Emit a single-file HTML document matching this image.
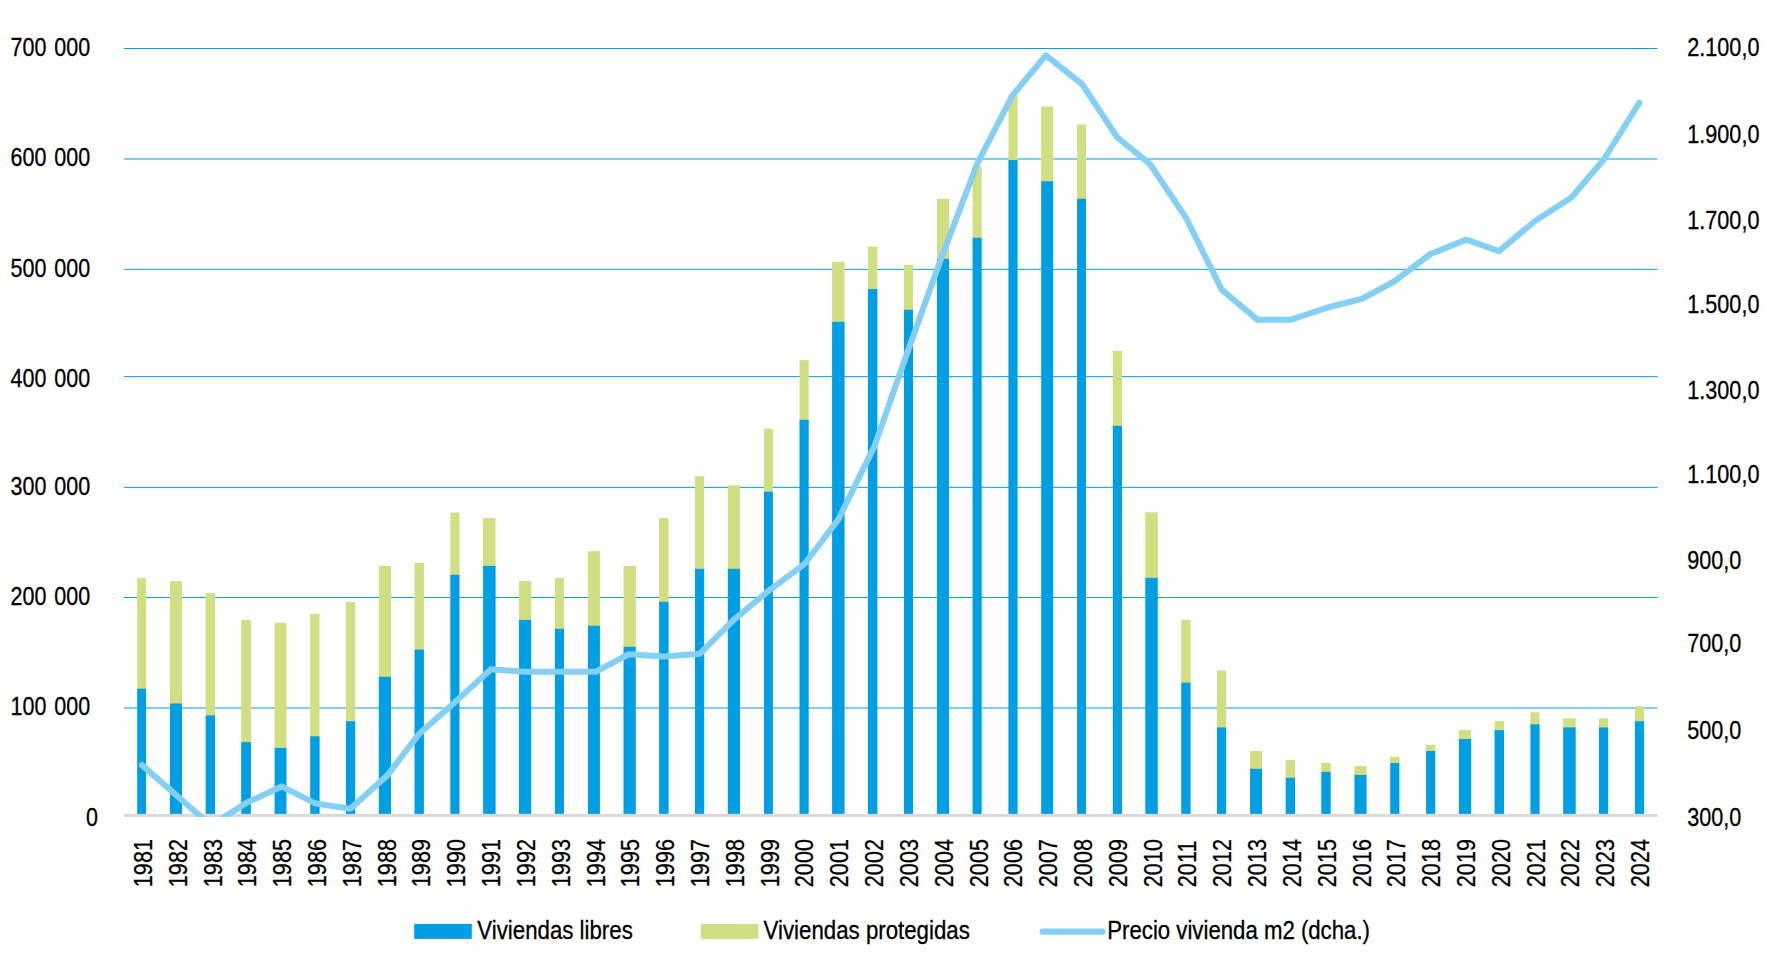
<!DOCTYPE html>
<html lang="es"><head><meta charset="utf-8"><title>Viviendas y precio</title>
<style>html,body{margin:0;padding:0;background:#fff}body{width:1772px;height:971px;overflow:hidden}svg{display:block}text{font-family:"Liberation Sans",sans-serif;fill:#000;stroke:#000;stroke-width:0.3px}</style>
</head><body>
<svg width="1772" height="971" viewBox="0 0 1772 971">
<rect width="1772" height="971" fill="#fff"/>
<g stroke="#009EE2" stroke-width="1" fill="none">
<line x1="124.0" x2="1657.5" y1="708.00" y2="708.00"/>
<line x1="124.0" x2="1657.5" y1="597.50" y2="597.50"/>
<line x1="124.0" x2="1657.5" y1="487.35" y2="487.35"/>
<line x1="124.0" x2="1657.5" y1="376.65" y2="376.65"/>
<line x1="124.0" x2="1657.5" y1="269.35" y2="269.35"/>
<line x1="124.0" x2="1657.5" y1="159.00" y2="159.00"/>
<line x1="124.0" x2="1657.5" y1="48.50" y2="48.50"/>
</g>
<g>
<rect x="137.2" y="578.1" width="8.9" height="111.1" fill="#D2DE82"/>
<rect x="137.2" y="688.7" width="8.9" height="125.8" fill="#009EE2"/>
<rect x="170.0" y="581.1" width="12.0" height="122.9" fill="#D2DE82"/>
<rect x="170.0" y="703.5" width="12.0" height="111.0" fill="#009EE2"/>
<rect x="205.6" y="593.1" width="9.5" height="122.8" fill="#D2DE82"/>
<rect x="205.6" y="715.4" width="9.5" height="99.1" fill="#009EE2"/>
<rect x="241.2" y="619.8" width="9.7" height="122.8" fill="#D2DE82"/>
<rect x="241.2" y="742.1" width="9.7" height="72.4" fill="#009EE2"/>
<rect x="274.6" y="622.8" width="11.9" height="125.6" fill="#D2DE82"/>
<rect x="274.6" y="747.9" width="11.9" height="66.6" fill="#009EE2"/>
<rect x="310.2" y="613.9" width="9.4" height="122.9" fill="#D2DE82"/>
<rect x="310.2" y="736.3" width="9.4" height="78.2" fill="#009EE2"/>
<rect x="346.0" y="602.0" width="9.2" height="119.7" fill="#D2DE82"/>
<rect x="346.0" y="721.2" width="9.2" height="93.3" fill="#009EE2"/>
<rect x="378.8" y="565.8" width="12.2" height="111.5" fill="#D2DE82"/>
<rect x="378.8" y="676.8" width="12.2" height="137.7" fill="#009EE2"/>
<rect x="414.5" y="562.9" width="9.4" height="87.2" fill="#D2DE82"/>
<rect x="414.5" y="649.6" width="9.4" height="164.9" fill="#009EE2"/>
<rect x="450.3" y="512.6" width="9.2" height="62.7" fill="#D2DE82"/>
<rect x="450.3" y="574.8" width="9.2" height="239.7" fill="#009EE2"/>
<rect x="483.1" y="518.1" width="12.5" height="48.3" fill="#D2DE82"/>
<rect x="483.1" y="565.9" width="12.5" height="248.6" fill="#009EE2"/>
<rect x="519.0" y="580.9" width="12.2" height="39.5" fill="#D2DE82"/>
<rect x="519.0" y="619.9" width="12.2" height="194.6" fill="#009EE2"/>
<rect x="554.9" y="577.9" width="9.1" height="51.4" fill="#D2DE82"/>
<rect x="554.9" y="628.8" width="9.1" height="185.7" fill="#009EE2"/>
<rect x="587.9" y="551.2" width="12.0" height="75.0" fill="#D2DE82"/>
<rect x="587.9" y="625.7" width="12.0" height="188.8" fill="#009EE2"/>
<rect x="623.5" y="565.9" width="12.3" height="81.4" fill="#D2DE82"/>
<rect x="623.5" y="646.8" width="12.3" height="167.7" fill="#009EE2"/>
<rect x="659.1" y="518.1" width="9.5" height="84.2" fill="#D2DE82"/>
<rect x="659.1" y="601.8" width="9.5" height="212.7" fill="#009EE2"/>
<rect x="695.0" y="476.2" width="9.2" height="93.1" fill="#D2DE82"/>
<rect x="695.0" y="568.8" width="9.2" height="245.7" fill="#009EE2"/>
<rect x="727.8" y="485.3" width="12.2" height="84.0" fill="#D2DE82"/>
<rect x="727.8" y="568.8" width="12.2" height="245.7" fill="#009EE2"/>
<rect x="764.0" y="428.6" width="8.9" height="63.6" fill="#D2DE82"/>
<rect x="764.0" y="491.7" width="8.9" height="322.8" fill="#009EE2"/>
<rect x="799.5" y="360.1" width="9.2" height="60.2" fill="#D2DE82"/>
<rect x="799.5" y="419.8" width="9.2" height="394.7" fill="#009EE2"/>
<rect x="832.1" y="261.7" width="12.5" height="60.6" fill="#D2DE82"/>
<rect x="832.1" y="321.8" width="12.5" height="492.7" fill="#009EE2"/>
<rect x="867.9" y="246.7" width="9.5" height="42.8" fill="#D2DE82"/>
<rect x="867.9" y="289.0" width="9.5" height="525.5" fill="#009EE2"/>
<rect x="904.0" y="264.8" width="9.0" height="45.5" fill="#D2DE82"/>
<rect x="904.0" y="309.8" width="9.0" height="504.7" fill="#009EE2"/>
<rect x="937.0" y="198.8" width="12.0" height="60.5" fill="#D2DE82"/>
<rect x="937.0" y="258.8" width="12.0" height="555.7" fill="#009EE2"/>
<rect x="972.6" y="166.2" width="9.1" height="72.1" fill="#D2DE82"/>
<rect x="972.6" y="237.8" width="9.1" height="576.7" fill="#009EE2"/>
<rect x="1008.4" y="94.5" width="9.2" height="66.1" fill="#D2DE82"/>
<rect x="1008.4" y="160.1" width="9.2" height="654.4" fill="#009EE2"/>
<rect x="1041.2" y="106.5" width="12.0" height="75.2" fill="#D2DE82"/>
<rect x="1041.2" y="181.2" width="12.0" height="633.3" fill="#009EE2"/>
<rect x="1077.1" y="124.5" width="8.9" height="74.8" fill="#D2DE82"/>
<rect x="1077.1" y="198.8" width="8.9" height="615.7" fill="#009EE2"/>
<rect x="1112.8" y="351.0" width="9.2" height="75.4" fill="#D2DE82"/>
<rect x="1112.8" y="425.9" width="9.2" height="388.6" fill="#009EE2"/>
<rect x="1145.3" y="512.4" width="12.5" height="66.0" fill="#D2DE82"/>
<rect x="1145.3" y="577.9" width="12.5" height="236.6" fill="#009EE2"/>
<rect x="1181.2" y="619.8" width="9.4" height="63.3" fill="#D2DE82"/>
<rect x="1181.2" y="682.6" width="9.4" height="131.9" fill="#009EE2"/>
<rect x="1217.0" y="670.4" width="9.2" height="57.5" fill="#D2DE82"/>
<rect x="1217.0" y="727.4" width="9.2" height="87.1" fill="#009EE2"/>
<rect x="1250.1" y="751.0" width="12.0" height="18.3" fill="#D2DE82"/>
<rect x="1250.1" y="768.8" width="12.0" height="45.7" fill="#009EE2"/>
<rect x="1285.7" y="759.9" width="9.4" height="18.3" fill="#D2DE82"/>
<rect x="1285.7" y="777.7" width="9.4" height="36.8" fill="#009EE2"/>
<rect x="1321.3" y="763.0" width="9.4" height="9.3" fill="#D2DE82"/>
<rect x="1321.3" y="771.8" width="9.4" height="42.7" fill="#009EE2"/>
<rect x="1354.4" y="766.0" width="12.2" height="9.4" fill="#D2DE82"/>
<rect x="1354.4" y="774.9" width="12.2" height="39.6" fill="#009EE2"/>
<rect x="1390.2" y="756.8" width="9.2" height="6.7" fill="#D2DE82"/>
<rect x="1390.2" y="763.0" width="9.2" height="51.5" fill="#009EE2"/>
<rect x="1426.1" y="744.9" width="9.2" height="6.6" fill="#D2DE82"/>
<rect x="1426.1" y="751.0" width="9.2" height="63.5" fill="#009EE2"/>
<rect x="1458.9" y="730.1" width="12.3" height="9.4" fill="#D2DE82"/>
<rect x="1458.9" y="739.0" width="12.3" height="75.5" fill="#009EE2"/>
<rect x="1494.5" y="721.2" width="9.5" height="9.4" fill="#D2DE82"/>
<rect x="1494.5" y="730.1" width="9.5" height="84.4" fill="#009EE2"/>
<rect x="1530.4" y="712.3" width="9.2" height="12.5" fill="#D2DE82"/>
<rect x="1530.4" y="724.3" width="9.2" height="90.2" fill="#009EE2"/>
<rect x="1563.2" y="718.2" width="12.5" height="9.7" fill="#D2DE82"/>
<rect x="1563.2" y="727.4" width="12.5" height="87.1" fill="#009EE2"/>
<rect x="1599.0" y="718.2" width="9.2" height="9.7" fill="#D2DE82"/>
<rect x="1599.0" y="727.4" width="9.2" height="87.1" fill="#009EE2"/>
<rect x="1634.9" y="706.2" width="9.2" height="15.5" fill="#D2DE82"/>
<rect x="1634.9" y="721.2" width="9.2" height="93.3" fill="#009EE2"/>
</g>
<rect x="124.0" y="813.85" width="1533.5" height="3.15" fill="#D9D9D9"/>
<defs><clipPath id="pc"><rect x="114.0" y="0" width="1553.5" height="816.9"/></clipPath></defs>
<polyline clip-path="url(#pc)" points="142.0,765.1 176.3,795.3 211.1,825.6 246.0,803.1 281.7,786.4 315.4,803.4 350.4,808.8 387.4,775.3 418.7,734.3 454.6,702.5 491.0,669.2 523.5,671.8 559.6,671.8 595.8,671.8 628.6,654.2 664.2,656.5 699.7,653.8 733.4,620.1 768.5,590.9 804.5,564.0 838.4,519.3 874.3,446.7 908.2,349.9 943.5,252.0 977.5,163.2 1012.6,95.1 1045.9,55.4 1082.0,84.0 1117.2,137.3 1150.1,164.2 1185.9,217.6 1221.7,289.7 1257.6,319.8 1290.4,319.8 1326.8,307.8 1362.2,298.8 1395.0,281.0 1430.3,254.0 1466.3,239.7 1499.0,251.2 1535.0,221.0 1571.4,197.5 1603.4,160.0 1639.4,102.6" fill="none" stroke="#84D0F5" stroke-width="6.1" stroke-linejoin="round" stroke-linecap="round"/>
<text transform="translate(86.00,826.00) scale(0.8600,1.0000)" font-size="25" word-spacing="2.3">0</text>
<text transform="translate(10.50,715.10) scale(0.8600,1.0000)" font-size="25" word-spacing="2.3">100 000</text>
<text transform="translate(10.50,605.10) scale(0.8600,1.0000)" font-size="25" word-spacing="2.3">200 000</text>
<text transform="translate(10.50,495.00) scale(0.8600,1.0000)" font-size="25" word-spacing="2.3">300 000</text>
<text transform="translate(10.50,387.10) scale(0.8600,1.0000)" font-size="25" word-spacing="2.3">400 000</text>
<text transform="translate(10.50,277.20) scale(0.8600,1.0000)" font-size="25" word-spacing="2.3">500 000</text>
<text transform="translate(10.50,166.40) scale(0.8600,1.0000)" font-size="25" word-spacing="2.3">600 000</text>
<text transform="translate(10.50,55.90) scale(0.8600,1.0000)" font-size="25" word-spacing="2.3">700 000</text>
<text transform="translate(1687.30,826.20) scale(0.8650,1.0000)" font-size="25">300,0</text>
<text transform="translate(1687.30,739.00) scale(0.8650,1.0000)" font-size="25">500,0</text>
<text transform="translate(1687.30,652.40) scale(0.8650,1.0000)" font-size="25">700,0</text>
<text transform="translate(1687.30,568.60) scale(0.8650,1.0000)" font-size="25">900,0</text>
<text transform="translate(1687.30,482.50) scale(0.8650,1.0000)" font-size="25">1.100,0</text>
<text transform="translate(1687.30,399.10) scale(0.8650,1.0000)" font-size="25">1.300,0</text>
<text transform="translate(1687.30,312.50) scale(0.8650,1.0000)" font-size="25">1.500,0</text>
<text transform="translate(1687.30,228.70) scale(0.8650,1.0000)" font-size="25">1.700,0</text>
<text transform="translate(1687.30,142.60) scale(0.8650,1.0000)" font-size="25">1.900,0</text>
<text transform="translate(1687.30,56.00) scale(0.8650,1.0000)" font-size="25">2.100,0</text>
<text transform="translate(151.93,887.30) rotate(-90) scale(0.8600,1.0400)" font-size="25" letter-spacing="0.2">1981</text>
<text transform="translate(186.74,887.30) rotate(-90) scale(0.8600,1.0400)" font-size="25" letter-spacing="0.2">1982</text>
<text transform="translate(221.56,887.30) rotate(-90) scale(0.8600,1.0400)" font-size="25" letter-spacing="0.2">1983</text>
<text transform="translate(256.38,887.30) rotate(-90) scale(0.8600,1.0400)" font-size="25" letter-spacing="0.2">1984</text>
<text transform="translate(291.19,887.30) rotate(-90) scale(0.8600,1.0400)" font-size="25" letter-spacing="0.2">1985</text>
<text transform="translate(326.01,887.30) rotate(-90) scale(0.8600,1.0400)" font-size="25" letter-spacing="0.2">1986</text>
<text transform="translate(360.83,887.30) rotate(-90) scale(0.8600,1.0400)" font-size="25" letter-spacing="0.2">1987</text>
<text transform="translate(395.65,887.30) rotate(-90) scale(0.8600,1.0400)" font-size="25" letter-spacing="0.2">1988</text>
<text transform="translate(430.46,887.30) rotate(-90) scale(0.8600,1.0400)" font-size="25" letter-spacing="0.2">1989</text>
<text transform="translate(465.28,887.30) rotate(-90) scale(0.8600,1.0400)" font-size="25" letter-spacing="0.2">1990</text>
<text transform="translate(500.10,887.30) rotate(-90) scale(0.8600,1.0400)" font-size="25" letter-spacing="0.2">1991</text>
<text transform="translate(534.91,887.30) rotate(-90) scale(0.8600,1.0400)" font-size="25" letter-spacing="0.2">1992</text>
<text transform="translate(569.73,887.30) rotate(-90) scale(0.8600,1.0400)" font-size="25" letter-spacing="0.2">1993</text>
<text transform="translate(604.55,887.30) rotate(-90) scale(0.8600,1.0400)" font-size="25" letter-spacing="0.2">1994</text>
<text transform="translate(639.36,887.30) rotate(-90) scale(0.8600,1.0400)" font-size="25" letter-spacing="0.2">1995</text>
<text transform="translate(674.18,887.30) rotate(-90) scale(0.8600,1.0400)" font-size="25" letter-spacing="0.2">1996</text>
<text transform="translate(709.00,887.30) rotate(-90) scale(0.8600,1.0400)" font-size="25" letter-spacing="0.2">1997</text>
<text transform="translate(743.82,887.30) rotate(-90) scale(0.8600,1.0400)" font-size="25" letter-spacing="0.2">1998</text>
<text transform="translate(778.63,887.30) rotate(-90) scale(0.8600,1.0400)" font-size="25" letter-spacing="0.2">1999</text>
<text transform="translate(813.45,887.30) rotate(-90) scale(0.8600,1.0400)" font-size="25" letter-spacing="0.2">2000</text>
<text transform="translate(848.27,887.30) rotate(-90) scale(0.8600,1.0400)" font-size="25" letter-spacing="0.2">2001</text>
<text transform="translate(883.08,887.30) rotate(-90) scale(0.8600,1.0400)" font-size="25" letter-spacing="0.2">2002</text>
<text transform="translate(917.90,887.30) rotate(-90) scale(0.8600,1.0400)" font-size="25" letter-spacing="0.2">2003</text>
<text transform="translate(952.72,887.30) rotate(-90) scale(0.8600,1.0400)" font-size="25" letter-spacing="0.2">2004</text>
<text transform="translate(987.53,887.30) rotate(-90) scale(0.8600,1.0400)" font-size="25" letter-spacing="0.2">2005</text>
<text transform="translate(1022.35,887.30) rotate(-90) scale(0.8600,1.0400)" font-size="25" letter-spacing="0.2">2006</text>
<text transform="translate(1057.17,887.30) rotate(-90) scale(0.8600,1.0400)" font-size="25" letter-spacing="0.2">2007</text>
<text transform="translate(1091.99,887.30) rotate(-90) scale(0.8600,1.0400)" font-size="25" letter-spacing="0.2">2008</text>
<text transform="translate(1126.80,887.30) rotate(-90) scale(0.8600,1.0400)" font-size="25" letter-spacing="0.2">2009</text>
<text transform="translate(1161.62,887.30) rotate(-90) scale(0.8600,1.0400)" font-size="25" letter-spacing="0.2">2010</text>
<text transform="translate(1196.44,887.30) rotate(-90) scale(0.8600,1.0400)" font-size="25" letter-spacing="0.2">2011</text>
<text transform="translate(1231.25,887.30) rotate(-90) scale(0.8600,1.0400)" font-size="25" letter-spacing="0.2">2012</text>
<text transform="translate(1266.07,887.30) rotate(-90) scale(0.8600,1.0400)" font-size="25" letter-spacing="0.2">2013</text>
<text transform="translate(1300.89,887.30) rotate(-90) scale(0.8600,1.0400)" font-size="25" letter-spacing="0.2">2014</text>
<text transform="translate(1335.70,887.30) rotate(-90) scale(0.8600,1.0400)" font-size="25" letter-spacing="0.2">2015</text>
<text transform="translate(1370.52,887.30) rotate(-90) scale(0.8600,1.0400)" font-size="25" letter-spacing="0.2">2016</text>
<text transform="translate(1405.34,887.30) rotate(-90) scale(0.8600,1.0400)" font-size="25" letter-spacing="0.2">2017</text>
<text transform="translate(1440.16,887.30) rotate(-90) scale(0.8600,1.0400)" font-size="25" letter-spacing="0.2">2018</text>
<text transform="translate(1474.97,887.30) rotate(-90) scale(0.8600,1.0400)" font-size="25" letter-spacing="0.2">2019</text>
<text transform="translate(1509.79,887.30) rotate(-90) scale(0.8600,1.0400)" font-size="25" letter-spacing="0.2">2020</text>
<text transform="translate(1544.61,887.30) rotate(-90) scale(0.8600,1.0400)" font-size="25" letter-spacing="0.2">2021</text>
<text transform="translate(1579.42,887.30) rotate(-90) scale(0.8600,1.0400)" font-size="25" letter-spacing="0.2">2022</text>
<text transform="translate(1614.24,887.30) rotate(-90) scale(0.8600,1.0400)" font-size="25" letter-spacing="0.2">2023</text>
<text transform="translate(1649.06,887.30) rotate(-90) scale(0.8600,1.0400)" font-size="25" letter-spacing="0.2">2024</text>
<rect x="414.2" y="923.9" width="57.6" height="15" fill="#009EE2"/>
<rect x="701" y="923.9" width="57.4" height="15" fill="#D2DE82"/>
<line x1="1042.7" x2="1102.4" y1="931.7" y2="931.7" stroke="#84D0F5" stroke-width="6.2" stroke-linecap="round"/>
<text transform="translate(477.30,938.50) scale(0.8910,1.0000)" font-size="25">Viviendas libres</text>
<text transform="translate(763.60,938.50) scale(0.8910,1.0000)" font-size="25">Viviendas protegidas</text>
<text transform="translate(1107.30,938.50) scale(0.8880,1.0000)" font-size="25">Precio vivienda m2 (dcha.)</text>
</svg></body></html>
